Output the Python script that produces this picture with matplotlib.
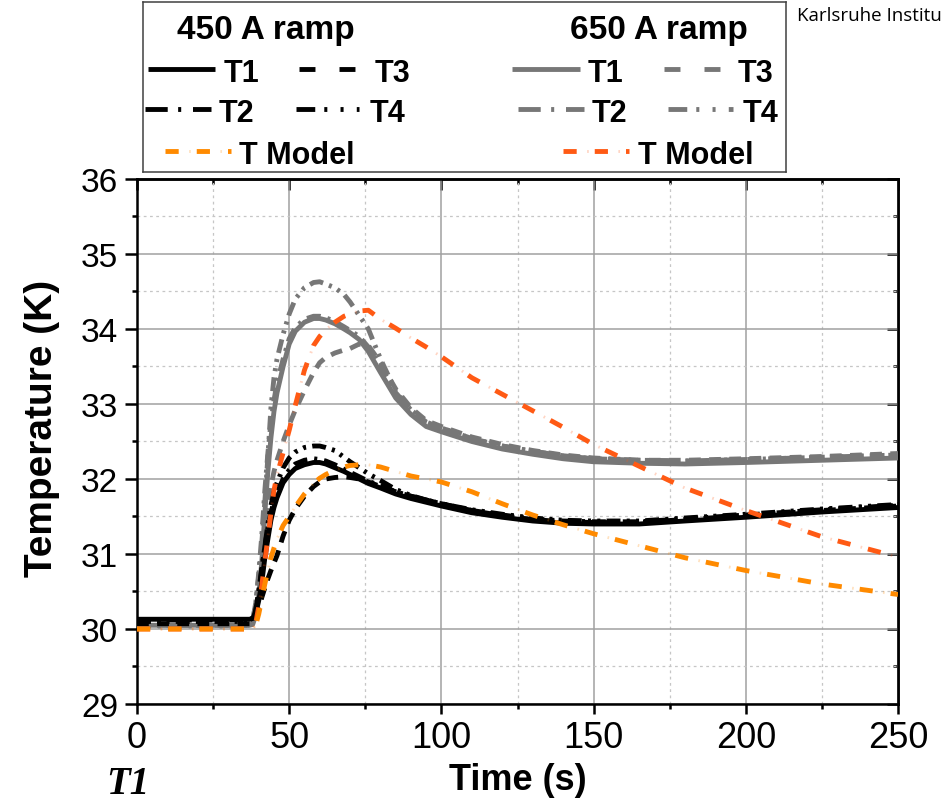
import matplotlib
import matplotlib.pyplot as plt
from matplotlib.ticker import MultipleLocator

matplotlib.use('Agg')  # Use non-interactive backend

plt.rcParams['font.family'] = ['Liberation Sans', 'DejaVu Sans']
plt.rcParams['lines.scale_dashes'] = False  # dash lengths below are in points

# ---- data (time in s, temperature in K) ----
time_s = [0, 37, 38, 39, 40, 41, 42, 43, 44, 45, 46, 48, 50, 52, 55, 58, 60, 62, 65, 68,
          70, 73, 76, 80, 85, 90, 95, 100, 110, 120, 130, 140, 150, 165, 180, 200, 225, 250]

# 450 A ramp, measured
t1_450 = [30.13, 30.13, 30.14, 30.20, 30.38, 30.62, 30.95, 31.20, 31.45, 31.62, 31.75, 31.95, 32.06,
          32.14, 32.19, 32.22, 32.22, 32.20, 32.15, 32.10, 32.06, 32.00, 31.94, 31.88, 31.80, 31.74,
          31.69, 31.64, 31.55, 31.49, 31.44, 31.41, 31.40, 31.40, 31.44, 31.49, 31.56, 31.62]
t2_450 = [30.12, 30.12, 30.15, 30.25, 30.50, 30.80, 31.10, 31.35, 31.55, 31.70, 31.82, 32.00, 32.12,
          32.20, 32.25, 32.27, 32.26, 32.24, 32.19, 32.13, 32.09, 32.03, 31.97, 31.91, 31.83, 31.77,
          31.72, 31.67, 31.58, 31.52, 31.47, 31.44, 31.43, 31.43, 31.47, 31.52, 31.59, 31.65]
t3_450 = [30.07, 30.07, 30.08, 30.15, 30.28, 30.42, 30.55, 30.67, 30.78, 30.88, 30.98, 31.24, 31.45,
          31.60, 31.77, 31.90, 31.96, 32.00, 32.02, 32.03, 32.02, 32.00, 31.96, 31.90, 31.83, 31.77,
          31.72, 31.67, 31.58, 31.51, 31.46, 31.43, 31.42, 31.42, 31.46, 31.51, 31.58, 31.64]
t4_450 = [30.10, 30.10, 30.12, 30.25, 30.50, 30.80, 31.10, 31.40, 31.65, 31.82, 31.95, 32.15, 32.28,
          32.36, 32.42, 32.44, 32.44, 32.42, 32.38, 32.29, 32.23, 32.15, 32.07, 31.98, 31.86, 31.78,
          31.72, 31.67, 31.59, 31.53, 31.48, 31.45, 31.44, 31.44, 31.48, 31.53, 31.60, 31.66]

# 650 A ramp, measured
t1_650 = [30.05, 30.05, 30.06, 30.18, 30.45, 30.90, 31.55, 32.10, 32.55, 32.90, 33.15, 33.50, 33.80,
          33.97, 34.09, 34.14, 34.14, 34.12, 34.07, 34.00, 33.95, 33.86, 33.70, 33.42, 33.08, 32.86,
          32.70, 32.63, 32.50, 32.40, 32.33, 32.27, 32.23, 32.21, 32.20, 32.22, 32.25, 32.28]
t2_650 = [30.04, 30.04, 30.10, 30.35, 30.75, 31.25, 31.85, 32.35, 32.75, 33.05, 33.28, 33.60, 33.87,
          34.02, 34.13, 34.17, 34.17, 34.15, 34.10, 34.03, 33.98, 33.90, 33.76, 33.50, 33.15, 32.92,
          32.76, 32.68, 32.54, 32.44, 32.37, 32.31, 32.27, 32.25, 32.24, 32.26, 32.29, 32.32]
t3_650 = [30.05, 30.05, 30.06, 30.20, 30.45, 30.80, 31.20, 31.60, 31.90, 32.10, 32.25, 32.50, 32.72,
          32.92, 33.18, 33.42, 33.55, 33.62, 33.68, 33.72, 33.74, 33.80, 33.78, 33.55, 33.20, 32.95,
          32.78, 32.70, 32.56, 32.46, 32.38, 32.32, 32.28, 32.25, 32.25, 32.27, 32.30, 32.34]
t4_650 = [30.05, 30.05, 30.10, 30.35, 30.70, 31.15, 31.70, 32.30, 32.95, 33.35, 33.60, 33.93, 34.20,
          34.40, 34.55, 34.62, 34.63, 34.60, 34.55, 34.46, 34.36, 34.18, 34.00, 33.60, 33.17, 32.92,
          32.76, 32.68, 32.54, 32.44, 32.37, 32.31, 32.27, 32.25, 32.24, 32.26, 32.29, 32.32]

# model curves
model_450 = [30.00, 30.00, 30.00, 30.05, 30.20, 30.40, 30.60, 30.78, 30.95, 31.08, 31.20, 31.38, 31.50,
             31.63, 31.80, 31.94, 32.01, 32.06, 32.12, 32.16, 32.18, 32.19, 32.19, 32.16, 32.10, 32.04,
             32.00, 31.96, 31.83, 31.67, 31.52, 31.39, 31.27, 31.11, 30.95, 30.78, 30.60, 30.46]
model_650 = [30.00, 30.00, 30.00, 30.08, 30.30, 30.58, 30.90, 31.22, 31.55, 31.85, 32.05, 32.35, 32.65,
             32.98, 33.45, 33.78, 33.90, 33.99, 34.09, 34.17, 34.20, 34.24, 34.25, 34.13, 34.01, 33.88,
             33.76, 33.63, 33.35, 33.13, 32.91, 32.69, 32.46, 32.17, 31.88, 31.58, 31.23, 30.96]

x_ticks = [0, 50, 100, 150, 200, 250]
y_ticks = [29, 30, 31, 32, 33, 34, 35, 36]

# ---- styles ----
BLACK = '#000000'
GRAY = '#777777'
ORANGE = '#ff8a00'
RED = '#ff5a14'
LW = 3.5

STYLES = {
    'T1': '-',
    'T2': (0, (10, 5, 2.2, 5)),
    'T3': (0, (8.5, 6)),
    'T4': (0, (10, 4.5, 2.2, 4.5, 2.2, 4.5)),
}
MODEL_DASH = (0, (9.5, 13))
MODEL_DOT = (5.5, (1.2, 21.3))   # faint dot in the middle of each gap


def plot_model(axis, x, y, color, zorder=5):
    axis.plot(x, y, color=color, lw=LW, linestyle=MODEL_DASH, zorder=zorder)
    axis.plot(x, y, color=color, lw=LW * 0.6, linestyle=MODEL_DOT, alpha=0.25, zorder=zorder)


W, H = 943, 803
fig = plt.figure(figsize=(W / 100, H / 100), dpi=100)

# ---- main axes ----
ax = fig.add_axes([137 / W, 1 - 705 / H, 761 / W, 525 / H])

gray_series = {'T1': t1_650, 'T2': t2_650, 'T3': t3_650, 'T4': t4_650}
black_series = {'T1': t1_450, 'T2': t2_450, 'T3': t3_450, 'T4': t4_450}
for name in ('T2', 'T3', 'T4', 'T1'):
    ax.plot(time_s, gray_series[name], color=GRAY, lw=LW, linestyle=STYLES[name], zorder=3)
for name in ('T2', 'T3', 'T4', 'T1'):
    ax.plot(time_s, black_series[name], color=BLACK, lw=LW, linestyle=STYLES[name], zorder=4)
plot_model(ax, time_s, model_650, RED)
plot_model(ax, time_s, model_450, ORANGE)

ax.set_xlim(0, 250)
ax.set_ylim(29, 36)
ax.set_xticks(x_ticks)
ax.set_yticks(y_ticks)
ax.xaxis.set_minor_locator(MultipleLocator(25))
ax.yaxis.set_minor_locator(MultipleLocator(0.5))
ax.set_axisbelow(True)
ax.grid(which='major', color='#a0a0a0', lw=1.1, ls='-')
ax.grid(which='minor', color='#c6c6c6', lw=0.9, ls=(0, (2, 2.5)))

for s in ax.spines.values():
    s.set_linewidth(1.8)
    s.set_color('black')

ax.tick_params(axis='x', which='major', direction='out', length=7.5, width=1.8,
               labelsize=26, pad=4)
ax.tick_params(axis='y', which='major', direction='out', length=8.5, width=1.8,
               labelsize=24, pad=5)
ax.tick_params(which='minor', direction='out', length=3.6, width=1.8)

# top / right ticks point inward
top = ax.secondary_xaxis('top')
top.set_xticks(x_ticks)
top.xaxis.set_minor_locator(MultipleLocator(25))
top.tick_params(which='major', direction='in', length=8, width=1.8, labeltop=False)
top.tick_params(which='minor', direction='in', length=3.6, width=1.8)
top.spines['top'].set_linewidth(1.8)
right = ax.secondary_yaxis('right')
right.set_yticks(y_ticks)
right.yaxis.set_minor_locator(MultipleLocator(0.5))
right.tick_params(which='major', direction='in', length=8, width=1.8, labelright=False)
right.tick_params(which='minor', direction='in', length=3.6, width=1.8)
right.spines['right'].set_linewidth(1.8)

fig.text(518 / W, 1 - 790 / H, 'Time (s)', ha='center', va='baseline',
         fontsize=26, fontweight='bold')
fig.text(42 / W, 1 - 428 / H, 'Temperature (K)', ha='center', va='center',
         rotation=90, fontsize=28, fontweight='bold')

# ---- legend box (drawn in figure pixel coordinates) ----
leg = fig.add_axes([143 / W, 1 - 173 / H, 643 / W, 170 / H])
leg.set_xlim(143, 786)
leg.set_ylim(173, 3)
leg.set_xticks([])
leg.set_yticks([])
for s in leg.spines.values():
    s.set_linewidth(1.1)
    s.set_color('#404040')

LEG_STYLES = {
    'T1': '-',
    'T2': (0, (16, 7.5, 2.2, 8.5)),
    'T3': (0, (11.5, 17.3)),
    'T4': (0, (13.5, 6.5, 2.2, 9.5, 2.2, 9.5)),
}
leg_entries = [
    # name, color, line x0, x1, row y, text x
    ('T1', BLACK, 148, 215, 70, 224),
    ('T3', BLACK, 299, 355, 70, 375),
    ('T2', BLACK, 145, 211, 110, 219),
    ('T4', BLACK, 296, 359, 110, 370),
    ('T1', GRAY, 512, 580, 70, 588),
    ('T3', GRAY, 664, 720, 70, 738),
    ('T2', GRAY, 518, 584, 110, 592),
    ('T4', GRAY, 668, 733, 110, 743),
]
for name, color, x0, x1, y, tx in leg_entries:
    leg.plot([x0, x1], [y, y], color=color, lw=LW, linestyle=LEG_STYLES[name],
             solid_capstyle='butt')
    leg.text(tx, y + 12, name, fontsize=22, fontweight='bold', va='baseline', ha='left')

for color, x0, x1, tx in ((ORANGE, 165, 231, 239), (RED, 563, 629, 638)):
    plot_model(leg, [x0, x1], [152, 152], color)
    leg.text(tx, 164, 'T Model', fontsize=22, fontweight='bold', va='baseline', ha='left')

leg.text(266, 39, '450 A ramp', fontsize=24, fontweight='bold', ha='center', va='baseline')
leg.text(659, 39, '650 A ramp', fontsize=24, fontweight='bold', ha='center', va='baseline')

# ---- stray slide texts visible in the reference ----
fig.text(797 / W, 1 - 21 / H, 'Karlsruhe Institu', family=['Open Sans', 'DejaVu Sans'],
         fontsize=13.5, va='baseline', ha='left')
fig.text(106 / W, 1 - 794 / H, 'T1', family=['Liberation Serif', 'DejaVu Serif'],
         fontstyle='italic', fontweight='bold', fontsize=28, va='baseline', ha='left')

fig.savefig('out.png', dpi=100)
